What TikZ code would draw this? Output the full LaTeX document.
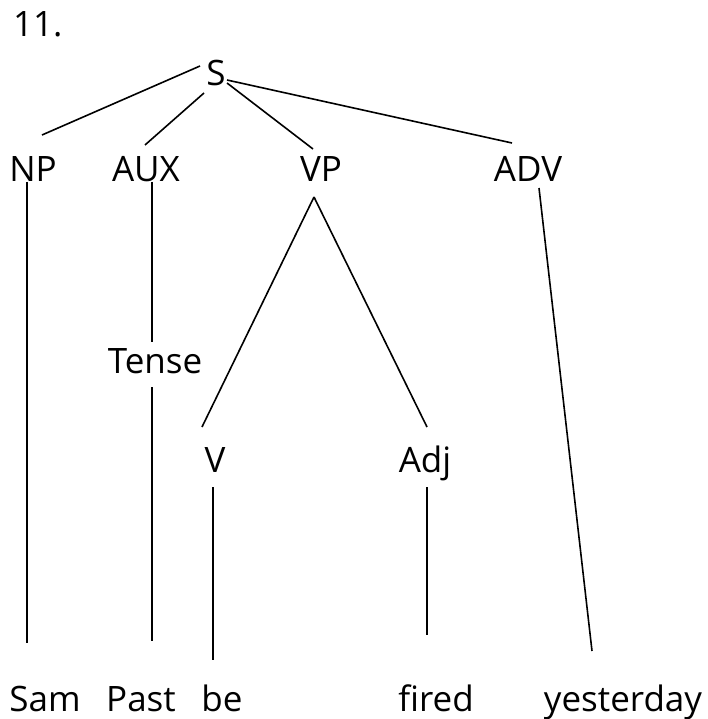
\documentclass[tikz,border=0pt]{standalone}
\usepackage{fontspec}
\setmainfont{Open Sans}
\begin{document}
\begin{tikzpicture}[x=1pt,y=-1pt,
  lbl/.style={anchor=base,inner sep=0pt,font=\fontsize{35}{40}\selectfont},
  branch/.style={line width=1.6pt,line cap=butt}]
\useasboundingbox[fill=white] (0,0) rectangle (707,719);

% labels
\node[lbl,anchor=base west] (num) at (13,37) {11.};
\node[lbl] (s)     at (216,86)  {S};
\node[lbl] (np)    at (33,182)  {NP};
\node[lbl] (aux)   at (146,182) {AUX};
\node[lbl] (vp)    at (321,182) {VP};
\node[lbl] (adv)   at (528,182) {ADV};
\node[lbl] (tense) at (155,373) {Tense};
\node[lbl] (v)     at (215,472) {V};
\node[lbl] (adj)   at (425,472) {Adj};
\node[lbl] (sam)   at (45,711)  {Sam};
\node[lbl] (past)  at (141,711) {Past};
\node[lbl] (be)    at (222,711) {be};
\node[lbl] (fired) at (436,711) {fired};
\node[lbl] (yest)  at (623,711) {yesterday};

% branch end points
\coordinate (sL)   at (200,66);
\coordinate (sA)   at (204,93);
\coordinate (sV)   at (227,83);
\coordinate (sR)   at (227,80);
\coordinate (npT)  at (42,135);
\coordinate (auxT) at (145,145);
\coordinate (vpT)  at (313,149);
\coordinate (advT) at (512,143);
\coordinate (npB)  at (27,182);
\coordinate (samT) at (27,643);
\coordinate (auxB) at (152,182);
\coordinate (tenT) at (152,342);
\coordinate (tenB) at (152,387);
\coordinate (pastT) at (152,641);
\coordinate (vpB)  at (314,197);
\coordinate (vT)   at (202,427);
\coordinate (adjT) at (427,427);
\coordinate (vB)   at (213,487);
\coordinate (beT)  at (213,660);
\coordinate (adjB) at (427,487);
\coordinate (firedT) at (427,635);
\coordinate (advB) at (539,188);
\coordinate (yestT) at (592,651);

% branches
\draw[branch] (sL) -- (npT);
\draw[branch] (sA) -- (auxT);
\draw[branch] (sV) -- (vpT);
\draw[branch] (sR) -- (advT);
\draw[branch] (npB) -- (samT);
\draw[branch] (auxB) -- (tenT);
\draw[branch] (tenB) -- (pastT);
\draw[branch] (vpB) -- (vT);
\draw[branch] (vpB) -- (adjT);
\draw[branch] (vB) -- (beT);
\draw[branch] (adjB) -- (firedT);
\draw[branch] (advB) -- (yestT);
\end{tikzpicture}
\end{document}
